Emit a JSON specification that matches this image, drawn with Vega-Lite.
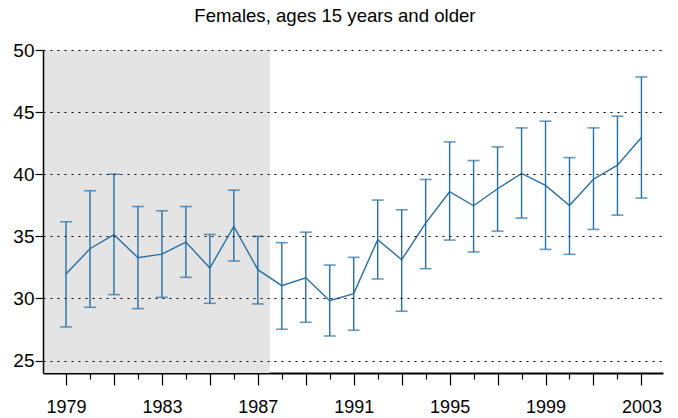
{
  "$schema": "https://vega.github.io/schema/vega-lite/v6.json",
  "width": 620,
  "height": 323,
  "autosize": {"type": "none"},
  "padding": {"left": 43, "top": 50, "right": 15, "bottom": 45},
  "background": "white",
  "title": {
    "text": "Females, ages 15 years and older",
    "font": "Liberation Sans",
    "fontSize": 18.6,
    "fontWeight": "normal",
    "color": "#000000",
    "anchor": "middle",
    "frame": "bounds",
    "offset": 15,
    "dx": -3
  },
  "config": {
    "view": {"stroke": null},
    "font": "Liberation Sans"
  },
  "resolve": {"axis": {"x": "independent"}},
  "datasets": {
    "period": [{"start": 1978.04, "end": 1987.5}],
    "series": [
      {"year": 1979, "value": 31.97, "lo": 27.71, "hi": 36.17},
      {"year": 1980, "value": 34.0, "lo": 29.29, "hi": 38.67},
      {"year": 1981, "value": 35.13, "lo": 30.31, "hi": 40.0},
      {"year": 1982, "value": 33.28, "lo": 29.18, "hi": 37.4},
      {"year": 1983, "value": 33.57, "lo": 30.09, "hi": 37.06},
      {"year": 1984, "value": 34.54, "lo": 31.7, "hi": 37.4},
      {"year": 1985, "value": 32.45, "lo": 29.61, "hi": 35.15},
      {"year": 1986, "value": 35.8, "lo": 33.01, "hi": 38.72},
      {"year": 1987, "value": 32.32, "lo": 29.56, "hi": 35.0},
      {"year": 1988, "value": 31.03, "lo": 27.52, "hi": 34.49},
      {"year": 1989, "value": 31.67, "lo": 28.08, "hi": 35.34},
      {"year": 1990, "value": 29.82, "lo": 26.98, "hi": 32.69},
      {"year": 1991, "value": 30.39, "lo": 27.44, "hi": 33.31},
      {"year": 1992, "value": 34.73, "lo": 31.57, "hi": 37.92},
      {"year": 1993, "value": 33.12, "lo": 28.97, "hi": 37.14},
      {"year": 1994, "value": 36.07, "lo": 32.4, "hi": 39.58},
      {"year": 1995, "value": 38.59, "lo": 34.7, "hi": 42.6},
      {"year": 1996, "value": 37.46, "lo": 33.74, "hi": 41.1},
      {"year": 1997, "value": 38.83, "lo": 35.42, "hi": 42.2},
      {"year": 1998, "value": 40.06, "lo": 36.47, "hi": 43.73},
      {"year": 1999, "value": 39.1, "lo": 33.95, "hi": 44.27},
      {"year": 2000, "value": 37.49, "lo": 33.55, "hi": 41.34},
      {"year": 2001, "value": 39.6, "lo": 35.56, "hi": 43.73},
      {"year": 2002, "value": 40.73, "lo": 36.71, "hi": 44.67},
      {"year": 2003, "value": 42.95, "lo": 38.08, "hi": 47.83}
    ]
  },
  "layer": [
    {
      "data": {"name": "period"},
      "mark": {"type": "rect", "color": "#e4e4e4"},
      "encoding": {
        "x": {"field": "start", "type": "quantitative", "scale": {"domain": [1978.04, 2003.9], "nice": false, "zero": false}, "axis": null},
        "x2": {"field": "end"},
        "y": {"datum": 24, "type": "quantitative", "scale": {"domain": [24, 50], "nice": false, "zero": false}},
        "y2": {"datum": 50}
      }
    },
    {
      "data": {"name": "series"},
      "mark": {"type": "rule", "color": "#2a6fa3", "strokeWidth": 1.4},
      "encoding": {
        "x": {
          "field": "year", "type": "quantitative",
          "axis": {
            "orient": "bottom",
            "title": null,
            "values": [1980,1982,1984,1986,1988,1990,1992,1994,1996,1998,2000,2002],
            "labels": false,
            "grid": false,
            "domain": false,
            "tickColor": "#000000",
            "tickWidth": 1.2,
            "tickSize": 6
          }
        },
        "y": {"field": "lo", "type": "quantitative"},
        "y2": {"field": "hi"}
      }
    },
    {
      "data": {"name": "series"},
      "mark": {"type": "tick", "orient": "horizontal", "color": "#2a6fa3", "size": 12, "thickness": 1.6},
      "encoding": {
        "x": {"field": "year", "type": "quantitative", "axis": null},
        "y": {"field": "lo", "type": "quantitative"}
      }
    },
    {
      "data": {"name": "series"},
      "mark": {"type": "tick", "orient": "horizontal", "color": "#2a6fa3", "size": 12, "thickness": 1.6},
      "encoding": {
        "x": {"field": "year", "type": "quantitative", "axis": null},
        "y": {"field": "hi", "type": "quantitative"}
      }
    },
    {
      "data": {"name": "series"},
      "mark": {"type": "line", "color": "#2a6fa3", "strokeWidth": 1.4},
      "encoding": {
        "x": {
          "field": "year", "type": "quantitative",
          "axis": {
            "orient": "bottom",
            "title": null,
            "values": [1979,1981,1983,1985,1987,1989,1991,1993,1995,1997,1999,2001,2003],
            "labelExpr": "(datum.value - 1979) % 4 == 0 ? datum.value : ''",
            "format": "d",
            "grid": false,
            "domainColor": "#000000",
            "domainWidth": 2,
            "tickColor": "#000000",
            "tickWidth": 1.2,
            "tickSize": 12,
            "labelFontSize": 18,
            "labelColor": "#000000",
            "labelPadding": 13,
            "labelFlush": false,
            "labelOverlap": false
          }
        },
        "y": {
          "field": "value", "type": "quantitative",
          "axis": {
            "title": null,
            "values": [25, 30, 35, 40, 45, 50],
            "grid": true,
            "gridColor": "#000000",
            "gridDash": [2, 5],
            "gridWidth": 1.2,
            "domainColor": "#000000",
            "domainWidth": 1.5,
            "tickColor": "#000000",
            "tickSize": 8,
            "tickWidth": 1.2,
            "labelFontSize": 19,
            "labelColor": "#000000",
            "labelPadding": 1,
            "labelFlush": false,
            "zindex": 1
          }
        }
      }
    }
  ]
}
